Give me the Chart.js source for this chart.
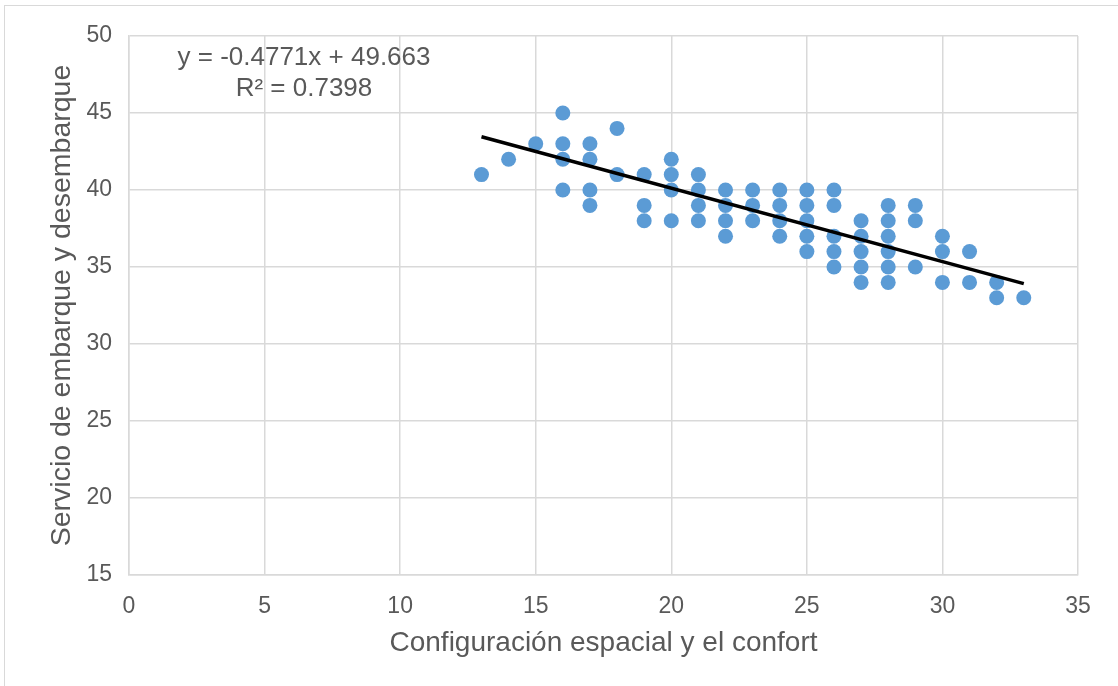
<!DOCTYPE html>
<html>
<head>
<meta charset="utf-8">
<script src="https://cdn.jsdelivr.net/npm/chart.js@4"></script>
<style>
  html, body { margin: 0; padding: 0; background: #fff; }
  #wrap { position: relative; width: 1118px; height: 686px; }
  #frame { position: absolute; left: 4px; top: 5px; width: 1200px; height: 800px;
           border-left: 1.5px solid #d9d9d9; border-top: 1.5px solid #d9d9d9; }
  canvas { position: absolute; left: 0; top: 0; }
</style>
</head>
<body>
<div id="wrap">
  <div id="frame"></div>
  <canvas id="scatterChart" width="1118" height="686"></canvas>
</div>
<script>
// configuración espacial (x) vs servicio de embarque (y)
const configX = [
  13, 14, 15,
  16, 16, 16, 16,
  17, 17, 17, 17,
  18, 18,
  19, 19, 19,
  20, 20, 20, 20,
  21, 21, 21, 21,
  22, 22, 22, 22,
  23, 23, 23,
  24, 24, 24, 24,
  25, 25, 25, 25, 25,
  26, 26, 26, 26, 26,
  27, 27, 27, 27, 27,
  28, 28, 28, 28, 28, 28,
  29, 29, 29,
  30, 30, 30,
  31, 31,
  32, 32,
  33
];
const servicioY = [
  41, 42, 43,
  45, 43, 42, 40,
  43, 42, 40, 39,
  44, 41,
  41, 39, 38,
  42, 41, 40, 38,
  41, 40, 39, 38,
  40, 39, 38, 37,
  40, 39, 38,
  40, 39, 38, 37,
  40, 39, 38, 37, 36,
  40, 39, 37, 36, 35,
  38, 37, 36, 35, 34,
  39, 38, 37, 36, 35, 34,
  39, 38, 35,
  37, 36, 34,
  36, 34,
  34, 33,
  33
];
// linea de tendencia (y = -0.4771x + 49.663)
const trendX = [13, 33];
const trendY = [43.461, 33.919];
const equationLines = ['y = -0.4771x + 49.663', 'R² = 0.7398'];

const xTicks = [0, 5, 10, 15, 20, 25, 30, 35];
const yTicks = [15, 20, 25, 30, 35, 40, 45, 50];

const FONT = "'Liberation Sans', Arial, sans-serif";
const GREY = '#595959';

const equationLabel = {
    id: 'equationLabel',
    afterDatasetsDraw(chart) {
        const c = chart.ctx;
        const area = chart.chartArea;
        c.save();
        c.font = '26px ' + FONT;
        c.fillStyle = GREY;
        c.textAlign = 'center';
        c.textBaseline = 'middle';
        c.fillText(equationLines[0], area.left + 175, area.top + 22);
        c.fillText(equationLines[1], area.left + 175, area.top + 53);
        c.restore();
    }
};

const ctx = document.getElementById('scatterChart').getContext('2d');
new Chart(ctx, {
    type: 'scatter',
    data: {
        datasets: [
            {
                label: 'datos',
                data: configX.map((x, i) => ({ x: x, y: servicioY[i] })),
                backgroundColor: '#5b9bd5',
                borderWidth: 0,
                pointRadius: 7.5,
                pointHoverRadius: 7.5,
                order: 2
            },
            {
                label: 'tendencia',
                type: 'line',
                data: trendX.map((x, i) => ({ x: x, y: trendY[i] })),
                borderColor: '#000',
                borderWidth: 3.5,
                pointRadius: 0,
                fill: false,
                order: 1
            }
        ]
    },
    options: {
        responsive: false,
        animation: false,
        layout: { padding: { top: 36, right: 40, left: 0, bottom: 0 } },
        plugins: { legend: { display: false }, tooltip: { enabled: false } },
        scales: {
            x: {
                type: 'linear',
                min: 0, max: 35,
                afterBuildTicks: s => { s.ticks = xTicks.map(v => ({ value: v })); },
                afterFit: s => { s.height = 111; },
                grid: { color: '#d9d9d9', lineWidth: 1.5, drawTicks: false },
                border: { color: '#d9d9d9', width: 1.5 },
                ticks: { color: GREY, font: { family: FONT, size: 23 }, padding: 18, maxRotation: 0 },
                title: {
                    display: true,
                    text: 'Configuración espacial y el confort',
                    color: GREY,
                    font: { family: FONT, size: 28 },
                    padding: { top: 0, bottom: 26 }
                }
            },
            y: {
                type: 'linear',
                min: 15, max: 50,
                afterBuildTicks: s => { s.ticks = yTicks.map(v => ({ value: v })); },
                afterFit: s => { s.width = 129; },
                grid: { color: '#d9d9d9', lineWidth: 1.5, drawTicks: false },
                border: { color: '#d9d9d9', width: 1.5 },
                ticks: { color: GREY, font: { family: FONT, size: 23 }, padding: 17 },
                title: {
                    display: true,
                    text: 'Servicio de embarque y desembarque',
                    color: GREY,
                    font: { family: FONT, size: 28.5 },
                    padding: { top: 45, bottom: 0 }
                }
            }
        }
    },
    plugins: [equationLabel]
});
</script>
</body>
</html>
